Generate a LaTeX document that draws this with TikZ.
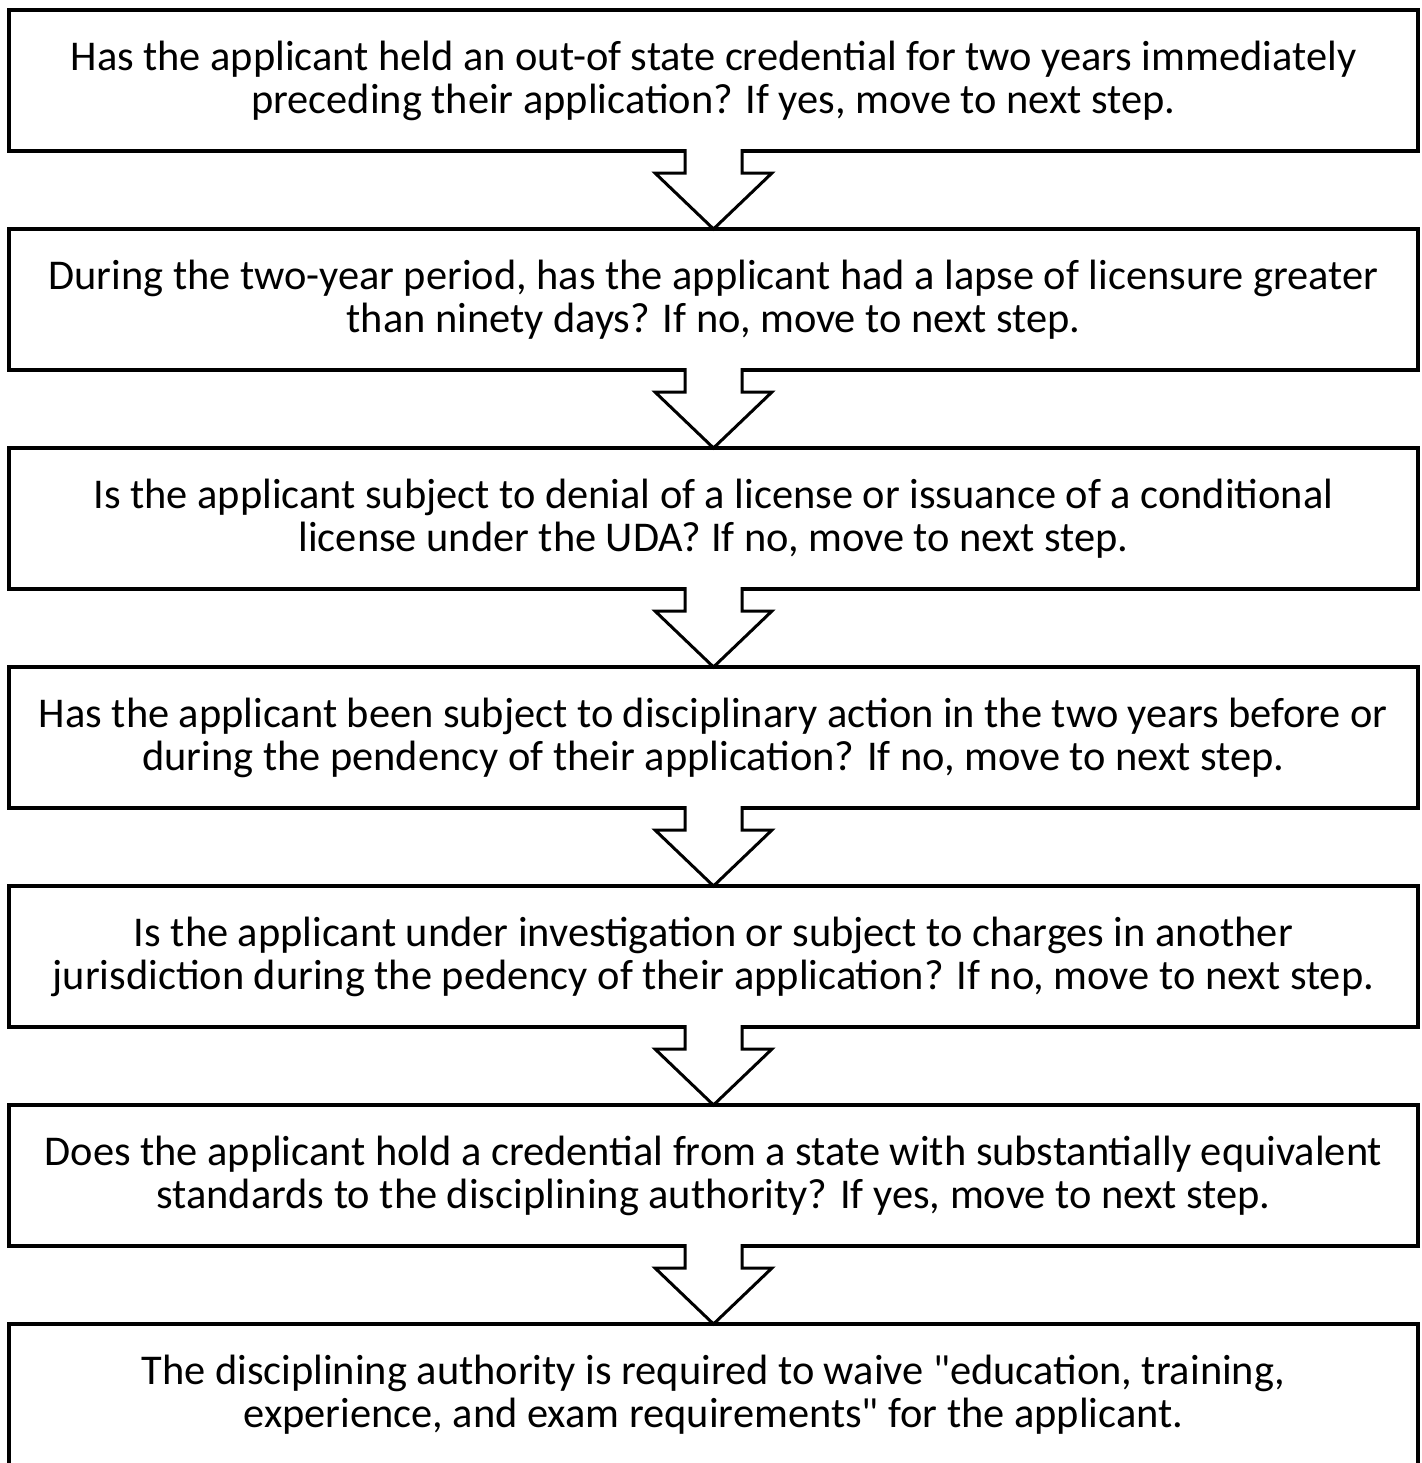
\documentclass[tikz,border=0pt]{standalone}
\usepackage{fontspec}
\setmainfont{Carlito}
\usepackage{tikz}
\usetikzlibrary{positioning}

\begin{document}
\begin{tikzpicture}[
    % Define common styles
        node distance=39pt,
        box/.style={draw, rectangle, line width=2pt, outer sep=0pt, align=center, minimum width=704.5pt, minimum height=70.5pt, inner sep=0pt, font=\fontsize{21.2}{21.5}\selectfont},
        blockarrow/.style={draw, fill=white, line width=1.5pt}
    ]
        % Page frame
        \useasboundingbox (0,0) rectangle (711pt,-731.5pt);

        % Top question node
        \node[box, below right=5pt and 4.5pt] at (0,0) (credential) {Has the applicant held an out-of state credential for two years immediately\\preceding their application? If yes, move to next step.};

        % Following steps
        \node[box, below=of credential] (lapse) {During the two-year period, has the applicant had a lapse of licensure greater\\than ninety days? If no, move to next step.};
        \node[box, below=of lapse] (denial) {Is the applicant subject to denial of a license or issuance of a conditional\\license under the UDA? If no, move to next step.};
        \node[box, below=of denial] (discipline) {Has the applicant been subject to disciplinary action in the two years before or\\during the pendency of their application? If no, move to next step.};
        \node[box, below=of discipline] (investigation) {Is the applicant under investigation or subject to charges in another\\jurisdiction during the pedency of their application? If no, move to next step.};
        \node[box, below=of investigation] (equivalent) {Does the applicant hold a credential from a state with substantially equivalent\\standards to the disciplining authority? If yes, move to next step.};

        % Final outcome
        \node[box, below=of equivalent] (waiver) {The disciplining authority is required to waive \textquotedbl education, training,\\experience, and exam requirements\textquotedbl{} for the applicant.};

        % Draw the block arrows between steps
        \foreach \a/\b in {credential/lapse, lapse/denial, denial/discipline, discipline/investigation, investigation/equivalent, equivalent/waiver}
            \path[blockarrow] ([xshift=-14.25pt,yshift=1pt]\a.south) -- ++(0,-12pt) -- ++(-15pt,0) -- (\b.north) -- ++(29.25pt,28pt) -- ++(-15pt,0) -- ++(0,12pt);

    \end{tikzpicture}
\end{document}
